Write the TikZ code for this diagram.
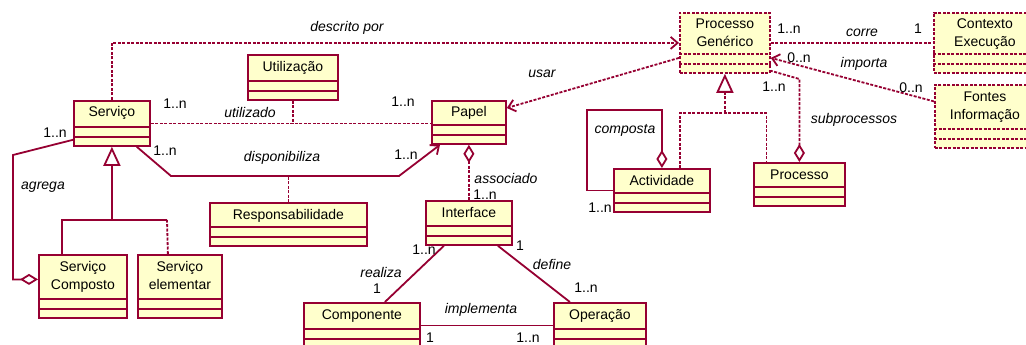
\documentclass[tikz,border=0pt]{standalone}
\usepackage{fontspec}
\setmainfont{Liberation Sans}
\usetikzlibrary{arrows.meta,calc}
\definecolor{umlred}{RGB}{150,0,50}
\definecolor{umlfill}{RGB}{255,255,204}
\tikzset{
  umlline/.style ={draw=umlred,line width=1.8pt},
  dotline/.style ={umlline,dash pattern=on 3pt off 1.5pt},
  classbox/.style={umlline,fill=umlfill,inner sep=0pt},
  classtxt/.style={font=\fontsize{14}{18}\selectfont,inner sep=0pt,anchor=base},
  mult/.style    ={font=\fontsize{14}{16}\selectfont,inner sep=0pt},
  role/.style    ={font=\fontsize{14}{16}\selectfont\itshape,inner sep=0pt},
  opn/.style     ={-{Straight Barb[length=7pt,width=12pt]}},
  gen/.style     ={-{Triangle[open,length=19pt,width=17pt]}},
  agg/.style     ={{Diamond[open,length=18pt,width=11pt]}-}
}
% class box: [extra style]{name}{x}{y}{width}{height}{line 1}{line 2}
\newcommand{\umlclass}[8][]{%
  \node (#2) [classbox,#1,minimum width=#5pt,minimum height=#6pt,anchor=north west] at (#3,#4) {};
  \node (#2-a) [classtxt] at ($(#2.north)+(0,17)$) {#7};
  \node (#2-b) [classtxt] at ($(#2.north)+(0,35)$) {#8};
  \draw [umlline,#1] ($(#2.south west)+(0,-20)$) -- ($(#2.south east)+(0,-20)$);
  \draw [umlline,#1] ($(#2.south west)+(0,-10)$) -- ($(#2.south east)+(0,-10)$);
}

\begin{document}
\begin{tikzpicture}[x=1pt,y=-1pt]
  \useasboundingbox (0,0) rectangle (1026,345);
  \fill[white] (0,0) rectangle (1026,345);
  \clip (0,0) rectangle (1026,345);

  % Classes
  \umlclass{serv}{73}{100}{76}{45}{Serviço}{}
  \umlclass{util}{247}{54}{90}{45}{Utilização}{}
  \umlclass{papel}{431}{100}{74}{43}{Papel}{}
  \umlclass[dotline]{pgen}{679}{12}{90}{60}{Processo}{Genérico}
  \umlclass[dotline]{ctx}{933}{12}{102}{60}{Contexto}{Execução}
  \umlclass[dotline]{fontes}{934}{84}{100}{63}{Fontes}{Informação}
  \umlclass{activ}{613}{168}{96}{43}{Actividade}{}
  \umlclass{proc}{753}{162}{91}{43}{Processo}{}
  \umlclass{scomp}{38}{254}{88}{63}{Serviço}{Composto}
  \umlclass{selem}{137}{254}{84}{63}{Serviço}{elementar}
  \umlclass{resp}{209}{202}{157}{43}{Responsabilidade}{}
  \umlclass{iface}{425}{200}{86}{44}{Interface}{}
  \umlclass{compo}{303}{302}{116}{45}{Componente}{}
  \umlclass{oper}{553}{302}{92}{45}{Operação}{}

  % Connectors
  \draw [dotline,opn] (serv.north) |- (pgen.west);
  \draw [dotline] (serv.east) -- (serv.east -| papel.west);
  \draw [dotline] (util.south) -- (util.south |- serv.east);
  \draw [umlline,opn] ([xshift=-14pt]serv.south east) -- (171,176) -- (399,176) -- ([xshift=9pt]papel.south west);
  \draw [dotline] (resp.north) -- (resp.north |- 0,176);
  \draw [dotline,opn] ([yshift=-15pt]pgen.west) -- ([yshift=-8pt]papel.north east);
  \draw [umlline,agg] ([yshift=7pt]scomp.west) -| (13,155) -- ([yshift=7pt]serv.south west);
  \draw [umlline] ([xshift=-21pt]scomp.north) |- (167,220);
  \draw [dotline] ([xshift=-12pt]selem.north) -- (167,220);
  \draw [umlline,gen] (serv.south |- 0,220) -- (serv.south);
  \draw [dotline,agg] (papel.south) -- (papel.south |- iface.north);
  \draw [umlline] ([xshift=-25pt]iface.south) -- ([xshift=23pt]compo.north);
  \draw [umlline] ([xshift=29pt]iface.south) -- ([xshift=-30pt]oper.north);
  \draw [umlline] (compo.east) -- (compo.east -| oper.west);
  \draw [dotline] (pgen.east) -- (pgen.east -| ctx.west);
  \draw [dotline,opn] ([yshift=15pt]fontes.west) -- ([yshift=-15pt]pgen.east);
  \draw [dotline] ([xshift=18pt]activ.north) |- ([xshift=-33pt]proc.north |- 0,113) -- ([xshift=-33pt]proc.north);
  \draw [dotline,gen] (pgen.south |- 0,113) -- (pgen.south);
  \draw [dotline,agg] (proc.north) -- (proc.north |- 0,79) -- ([yshift=3pt]pgen.south east);
  \draw [umlline,agg] (activ.north) |- (587,110) |- (activ.west);

  % Labels
  \foreach \x/\y/\t [count=\i] in {347/28/descrito por, 250/112/utilizado,
      282/158/disponibiliza, 43/187/agrega, 542/74/usar, 506/178/associado,
      381/272/realiza, 552/264/define, 481/310/implementa, 625/130/composta,
      854/120/subprocessos, 862/33/corre, 864/64/importa}
    \node (r\i) [role] at (\x,\y) {\t};
  \foreach \x/\y/\t [count=\i] in {175/104/1..n, 403/102/1..n, 165/151/1..n,
      406/155/1..n, 55/133/1..n, 485/195/1..n, 424/250/1..n, 377/289/1,
      520/246/1, 586/288/1..n, 430/338/1, 528/338/1..n, 600/208/1..n,
      774/87/1..n, 789/29/1..n, 918/29/1, 799/58/0..n, 911/88/0..n}
    \node (m\i) [mult] at (\x,\y) {\t};
\end{tikzpicture}
\end{document}
